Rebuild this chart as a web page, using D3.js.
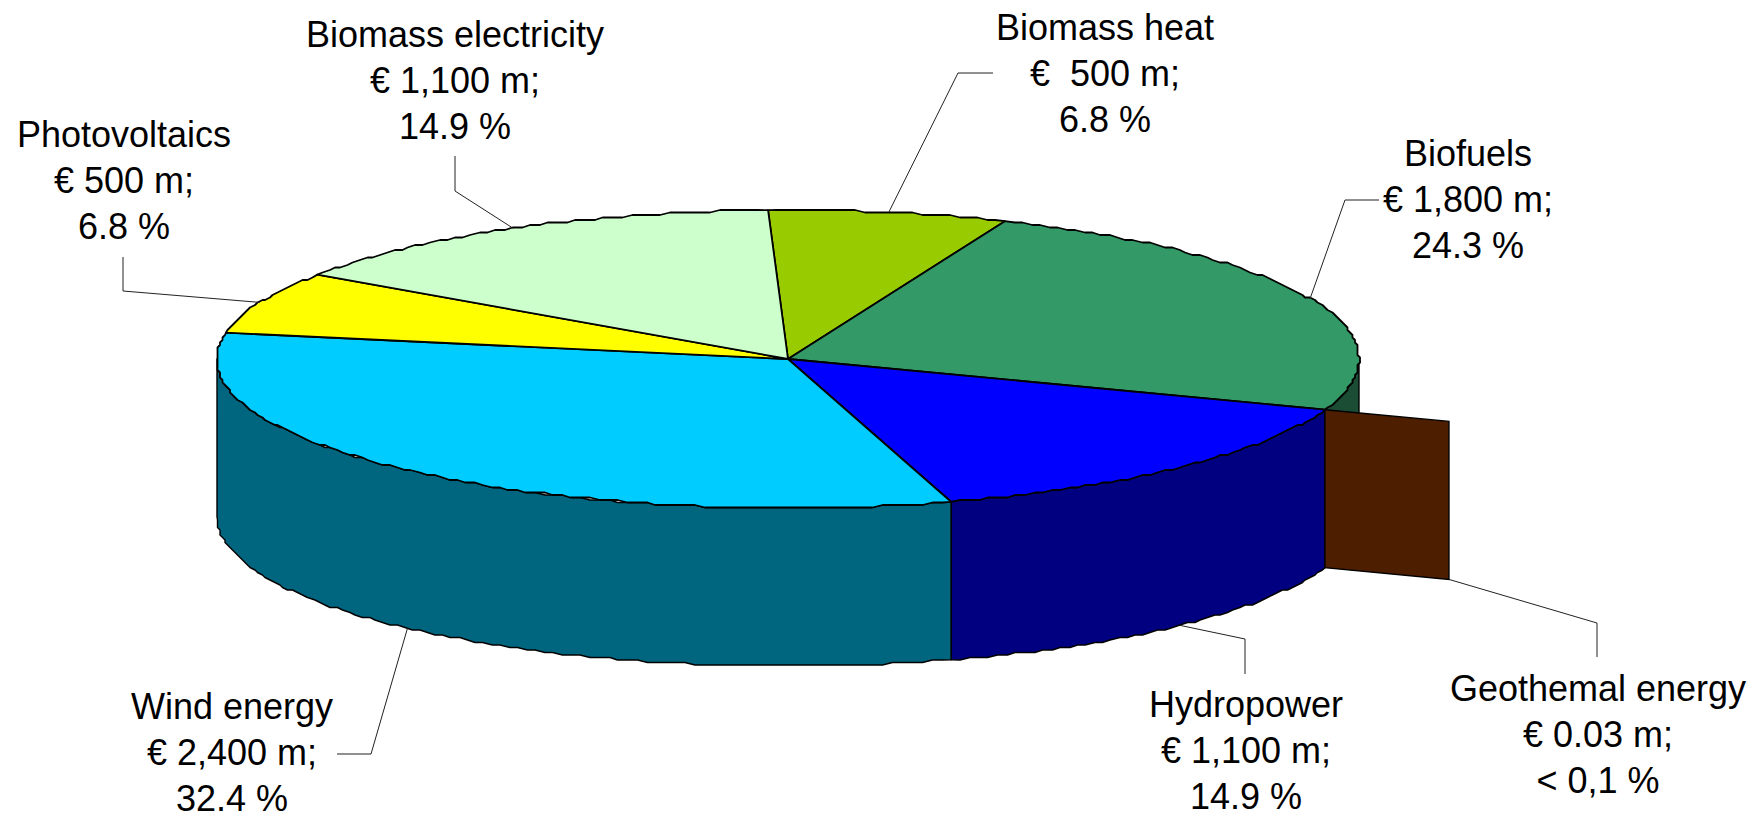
<!DOCTYPE html>
<html>
<head>
<meta charset="utf-8">
<style>
html,body{margin:0;padding:0;background:#fff;overflow:hidden}
svg{display:block}
text{font-family:"Liberation Sans",Arial,sans-serif;font-size:36px;fill:#000;text-anchor:middle;white-space:pre}
</style>
<script src="https://cdn.jsdelivr.net/npm/d3@7/dist/d3.min.js"></script>
</head>
<body>
<script>
// ---- data ----
const categories = ["Biomass heat","Biofuels","Geothemal energy","Hydropower","Wind energy","Photovoltaics","Biomass electricity"];
const values     = [500,1800,0.03,1100,2400,500,1100];
const amountText = ["€  500 m;","€ 1,800 m;","€ 0.03 m;","€ 1,100 m;","€ 2,400 m;","€ 500 m;","€ 1,100 m;"];
const shareText  = ["6.8 %","24.3 %","< 0,1 %","14.9 %","32.4 %","6.8 %","14.9 %"];
const topColors  = ["#99CC00","#339966","#993300","#0000FF","#00CCFF","#FFFF00","#CCFFCC"];
const sideColors = ["#4D6600","#1A4D33","#4D1E00","#000080","#006680","#808000","#668066"];

// ---- layout (chart furniture, separate from the data) ----
const W = 1751, H = 815;
const frame = {left:217, right:1359, top:210, bottom:508, depth:158};
const pullOut = 1.231;               // how far the sliver is pulled beyond the rim
const startDeg = -2;
const rimGrid = 2.5;                 // the rim of the original is visibly stepped
const labelX = [1105,1468,1598,1246,232,124,455];
const labelY = [40,166,701,717,719,147,47];
const lineGap = 46;
const leaderPts = [
  [[993,73],[958,73]],
  [[1379,200],[1345,200]],
  [[1597,657],[1597,623]],
  [[1245,674],[1245,639]],
  [[337,754],[371,754]],
  [[123,257],[123,291]],
  [[455,156],[455,191]]
];

const x = d3.scaleLinear().domain([-1,1]).range([frame.left,frame.right]);
const y = d3.scaleLinear().domain([-1,1]).range([frame.top,frame.bottom]);
const rimX = (a,r=1)=>x(r*Math.sin(a));
const rimY = (a,r=1,dz=0)=>y(-r*Math.cos(a))+dz;
const snap = v=>Math.round(v/rimGrid)*rimGrid;

const svg = d3.select("body").append("svg").attr("width",W).attr("height",H);

const rad = d=>d*Math.PI/180;
const slices = d3.pie().sort(null).value(d=>d)
  .startAngle(rad(startDeg)).endAngle(rad(startDeg+360))(values)
  .map((s,i)=>({...s,i,mid:(s.startAngle+s.endAngle)/2}));

const line = d3.line();
function arcPts(a0,a1,dz=0){
  const n = Math.max(2,Math.ceil(Math.abs(a1-a0)/rad(1)));
  return d3.range(n+1).map(k=>{
    const a=a0+(a1-a0)*k/n;
    const ex=rimX(a), ey=rimY(a,1,dz);
    return (k===0||k===n) ? [ex,ey] : [snap(ex),snap(ey)];
  });
}

// side walls: only the front half of the rim (90deg..270deg) is seen
const gSides = svg.append("g");
slices.forEach(s=>{
  const a0=Math.max(s.startAngle,rad(90)), a1=Math.min(s.endAngle,rad(270));
  if(a1<=a0||s.i===2) return;
  const pts=[...arcPts(a0,a1),...arcPts(a0,a1,frame.depth).reverse()];
  gSides.append("path").attr("d",line(pts)+"Z")
    .attr("fill",sideColors[s.i]).attr("stroke","#000").attr("stroke-width",1.4).attr("stroke-linejoin","round");
});

// the pulled-out sliver, seen as a single radial face
const geo = slices[2];
const geoPts=[[rimX(geo.mid),rimY(geo.mid)],[rimX(geo.mid,pullOut),rimY(geo.mid,pullOut)],
  [rimX(geo.mid,pullOut),rimY(geo.mid,pullOut,frame.depth)],[rimX(geo.mid),rimY(geo.mid,1,frame.depth)]];
svg.append("path").attr("d",line(geoPts)+"Z").attr("fill",sideColors[2])
  .attr("stroke","#000").attr("stroke-width",1.4).attr("stroke-linejoin","miter");

// top faces
const gTop = svg.append("g");
slices.forEach(s=>{
  if(s.i===2) return;
  const pts=[[x(0),y(0)],...arcPts(s.startAngle,s.endAngle)];
  gTop.append("path").attr("d",line(pts)+"Z")
    .attr("fill",topColors[s.i]).attr("stroke","#000").attr("stroke-width",1.8).attr("stroke-linejoin","round");
});

// leader lines: from label elbow to the middle of each slice's rim
const gLead = svg.append("g").attr("fill","none").attr("stroke","#222").attr("stroke-width",1);
slices.forEach(s=>{
  const front = s.mid>rad(90)&&s.mid<rad(270);
  const end = s.i===2 ? geoPts[2] : [rimX(s.mid),rimY(s.mid,1,front?frame.depth:0)];
  gLead.append("path").attr("d",line([...leaderPts[s.i],end]));
});

// labels
const gText = svg.append("g");
slices.forEach(s=>{
  [categories[s.i],amountText[s.i],shareText[s.i]].forEach((t,k)=>{
    gText.append("text").attr("x",labelX[s.i]).attr("y",labelY[s.i]+k*lineGap).text(t);
  });
});
</script>
</body>
</html>
